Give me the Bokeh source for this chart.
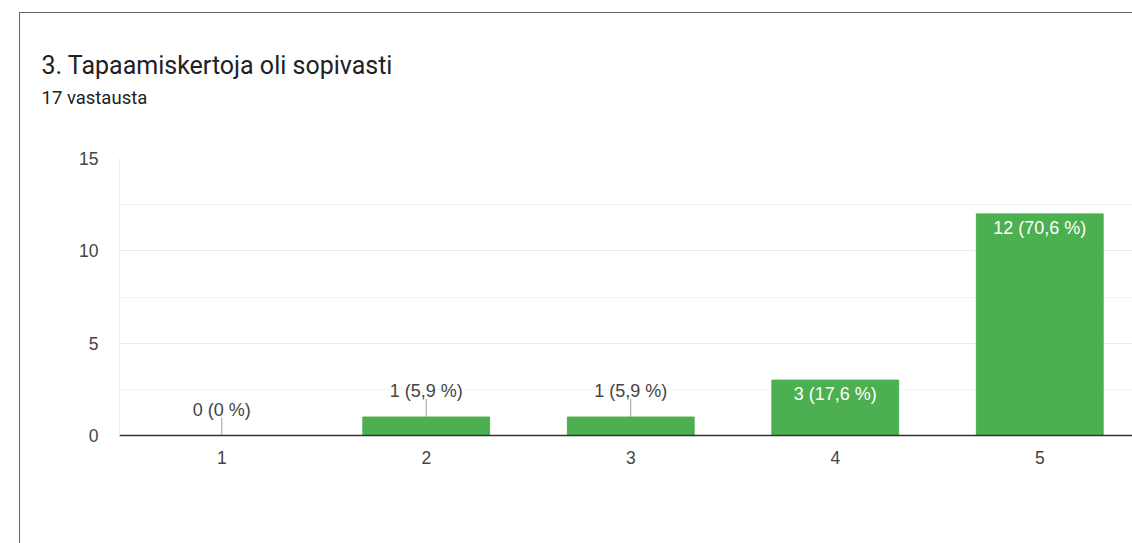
from bokeh.plotting import figure
from bokeh.models import ColumnDataSource, FixedTicker, Title, Range1d
from bokeh.embed import file_html
from bokeh.resources import INLINE
from bokeh.core.properties import value

title_text = "3. Tapaamiskertoja oli sopivasti"
subtitle_text = "17 vastausta"
categories = ["1", "2", "3", "4", "5"]
counts = [0, 1, 1, 3, 12]
percents = [0.0, 5.9, 5.9, 17.6, 70.6]
y_ticks = [0, 5, 10, 15]
y_minor_ticks = [2.5, 7.5, 12.5]

BAR = "#4caf50"
FRAME_W = 1013
FRAME_H = 277
PX_PER_UNIT = FRAME_H / 15.0
BAND = 204.5


def fmt(c, pct):
    s = f"{pct:.1f}".replace(".", ",")
    if s.endswith(",0"):
        s = s[:-2]
    return f"{c} ({s} %)"


xs = list(range(1, len(categories) + 1))
labels = [fmt(c, q) for c, q in zip(counts, percents)]
inside = [c >= 3 for c in counts]

src = ColumnDataSource(dict(x=xs, top=counts, label=labels))
out_src = ColumnDataSource(dict(
    x=[x for x, i in zip(xs, inside) if not i],
    y=[c for c, i in zip(counts, inside) if not i],
    y1=[c + 18 / PX_PER_UNIT for c, i in zip(counts, inside) if not i],
    label=[l for l, i in zip(labels, inside) if not i],
))
in_src = ColumnDataSource(dict(
    x=[x for x, i in zip(xs, inside) if i],
    y=[c for c, i in zip(counts, inside) if i],
    label=[l for l, i in zip(labels, inside) if i],
))

p = figure(frame_width=FRAME_W, frame_height=FRAME_H, output_backend="svg",
           toolbar_location=None, title=None,
           x_range=Range1d(0.5, 0.5 + FRAME_W / BAND), y_range=Range1d(0, 15),
           min_border_left=99, min_border_right=0, min_border_top=145,
           min_border_bottom=109)
p.margin = (12, 0, 0, 19)
p.styles = {"border-left": "1px solid #5f6368", "border-top": "1px solid #5f6368"}
p.outline_line_color = None

p.vbar(x="x", top="top", width=0.62, source=src, fill_color=BAR, line_color=BAR)

p.segment(x0="x", y0="y", x1="x", y1="y1", source=out_src, line_color="#9e9e9e", line_width=1)
p.text(x="x", y="y", text="label", source=out_src, y_offset=-26, text_align="center",
       text_baseline="middle", text_color="#444444", text_font=value("Liberation Sans"),
       text_font_size="18px")
p.text(x="x", y="y", text="label", source=in_src, y_offset=14, text_align="center",
       text_baseline="middle", text_color="#ffffff", text_font=value("Liberation Sans"),
       text_font_size="18px")

# axes
p.xaxis.ticker = FixedTicker(ticks=xs)
p.xaxis.major_label_overrides = {x: c for x, c in zip(xs, categories)}
p.xaxis.major_tick_line_color = None
p.xaxis.minor_tick_line_color = None
p.xaxis.axis_line_color = "#333333"
p.xaxis.axis_line_width = 1.5
p.xaxis.major_label_standoff = 9
p.xaxis.major_label_text_font = "Liberation Sans"
p.xaxis.major_label_text_font_size = "17.5px"
p.xaxis.major_label_text_color = "#444444"

p.yaxis.ticker = FixedTicker(ticks=y_ticks, minor_ticks=y_minor_ticks)
p.yaxis.major_tick_line_color = None
p.yaxis.minor_tick_line_color = None
p.yaxis.axis_line_color = "#ebebeb"
p.yaxis.major_label_standoff = 15
p.yaxis.major_label_text_font = "Liberation Sans"
p.yaxis.major_label_text_font_size = "17.5px"
p.yaxis.major_label_text_color = "#444444"

p.xgrid.grid_line_color = None
p.ygrid.grid_line_color = "#ebebeb"
p.ygrid.minor_grid_line_color = "#f3f3f3"

# blank spacer between the frame and the heading block
p.add_layout(Title(text=" ", standoff=32, text_font_size="10px"), "above")
p.add_layout(Title(text=subtitle_text, align="left", offset=-78, standoff=10,
                   text_font="Roboto", text_font_size="18.5px", text_font_style="normal",
                   text_color="#202124"), "above")
p.add_layout(Title(text=title_text, align="left", offset=-78, standoff=0,
                   text_font="Roboto", text_font_size="25px", text_font_style="normal",
                   text_color="#202124"), "above")

open("out.html", "w").write(file_html(p, INLINE))
